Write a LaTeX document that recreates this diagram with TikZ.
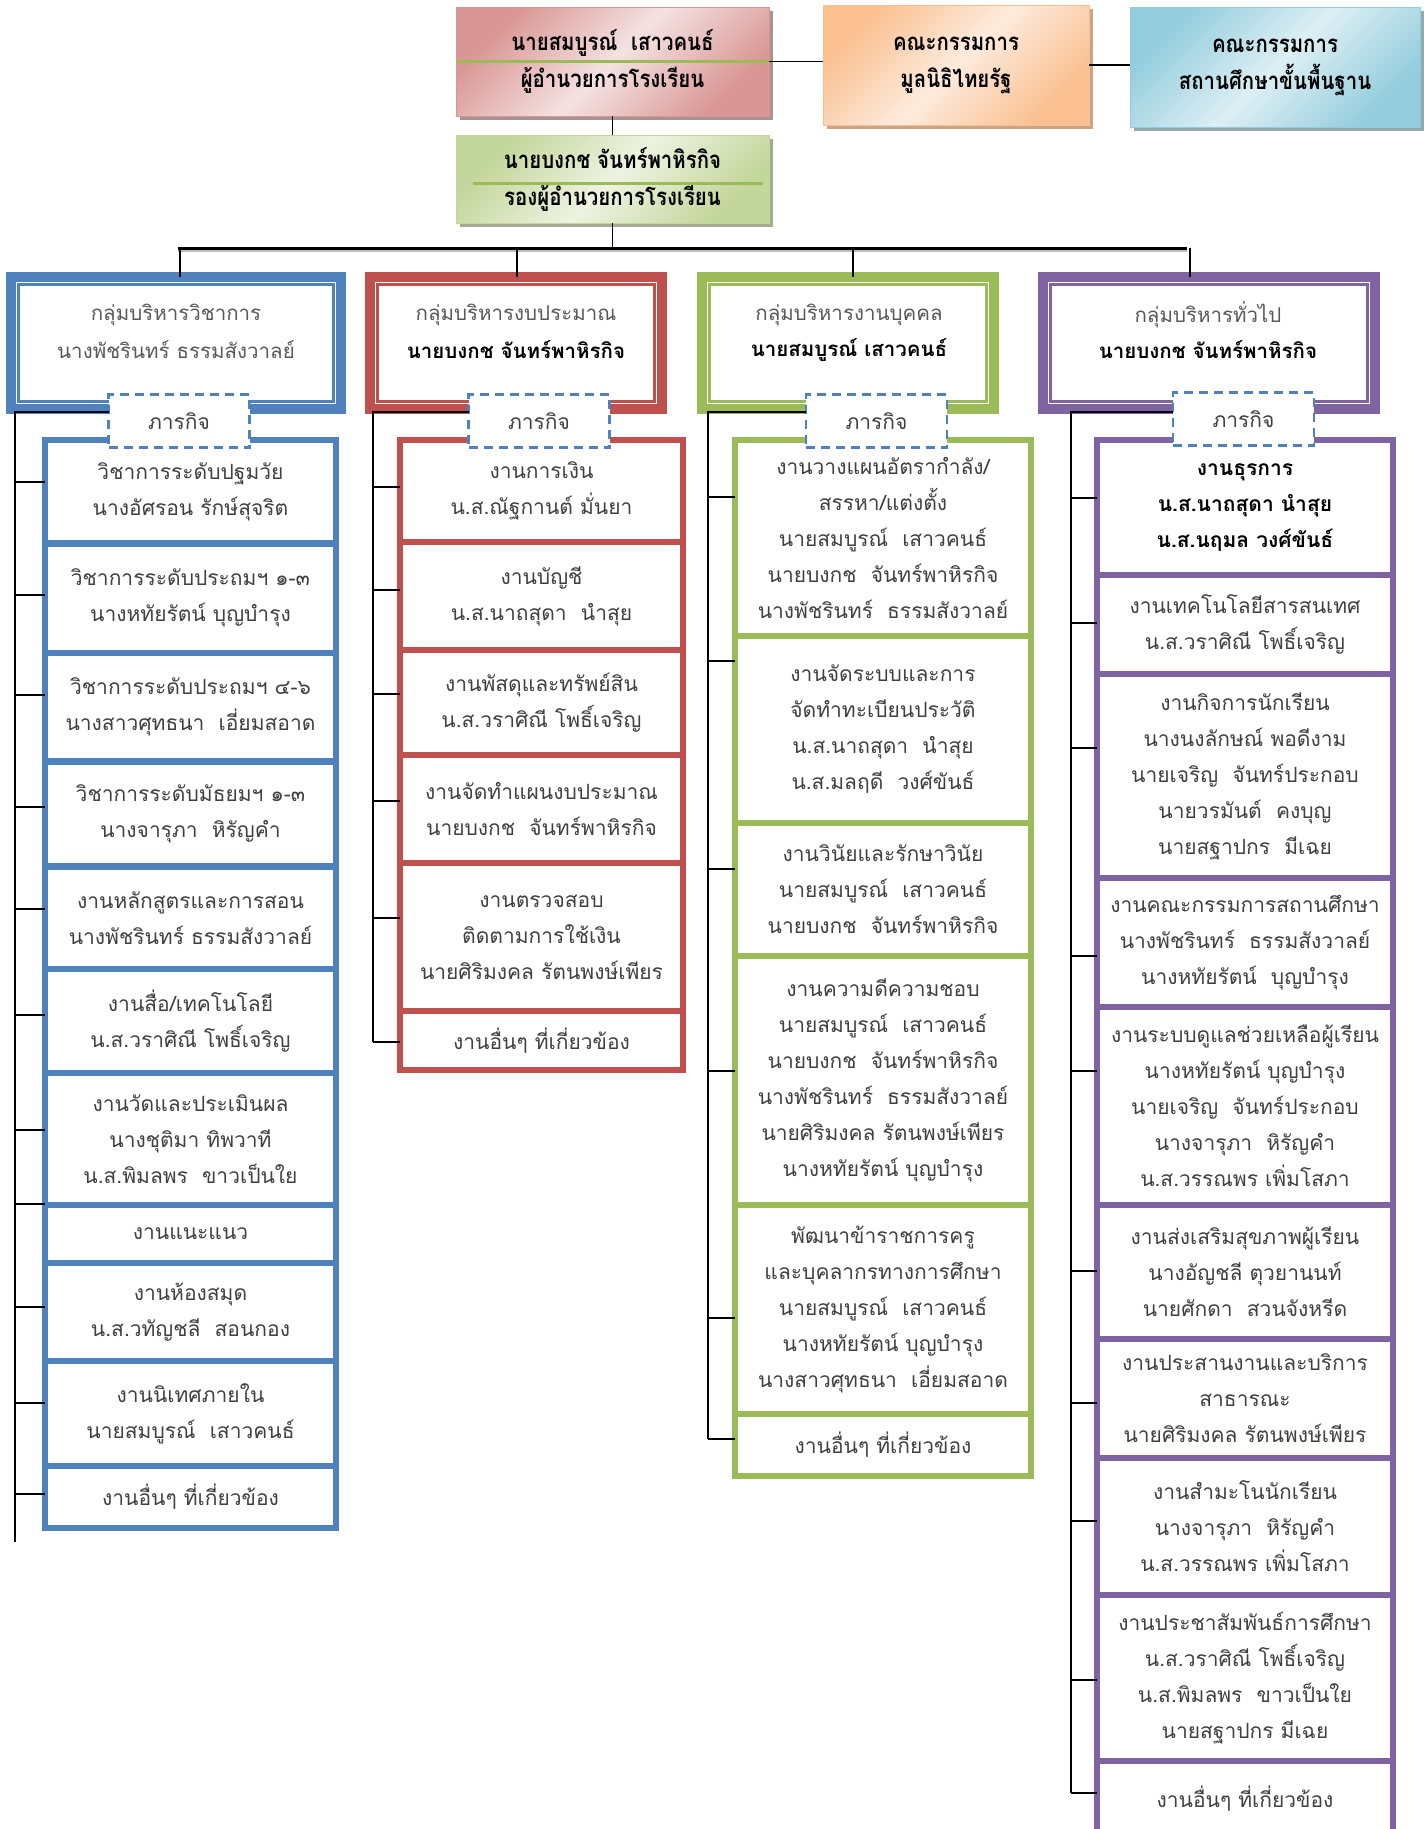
\documentclass[tikz,border=0pt]{standalone}
\usepackage{fontspec}
\setmainfont[Script=Thai]{Loma}
\usetikzlibrary{shadows}
\definecolor{cblue}{HTML}{4F81BD}
\definecolor{cred}{HTML}{C0504D}
\definecolor{cgreen}{HTML}{9BBB59}
\definecolor{cpurple}{HTML}{8064A2}
\definecolor{txtgray}{HTML}{404040}
\definecolor{hgray}{HTML}{595959}
\definecolor{pinkA}{HTML}{D99694}
\definecolor{pinkB}{HTML}{F4E2E2}
\definecolor{orA}{HTML}{FAC090}
\definecolor{orB}{HTML}{FDEBDD}
\definecolor{blA}{HTML}{93CDDD}
\definecolor{blB}{HTML}{DDEFF4}
\definecolor{grA}{HTML}{C3D69B}
\definecolor{grB}{HTML}{EEF3E2}
\definecolor{shR}{HTML}{A89292}
\definecolor{shO}{HTML}{C9A486}
\definecolor{shB}{HTML}{94A8AF}
\definecolor{shG}{HTML}{A3AB93}
\newcommand\bxfont{\fontsize{21}{36}\selectfont}
\newcommand\hdfont{\fontsize{20.5}{35}\selectfont}
\newcommand\tpfont{\fontsize{24}{37}\selectfont\bfseries}
\newcommand\cond[1]{\scalebox{0.85}[1]{#1}}
\newcommand\taskbox[7]{\node[#2, minimum width={#4-#3}, minimum height={#6-#5}] (#1) at ({(#3+#4)/2},{(#5+#6)/2}) {#7};}
\tikzset{
  every node/.style={inner sep=0pt, outer sep=0pt},
  tb/.style={draw=#1, line width=6.5pt, fill=white, text=txtgray, align=center, font=\bxfont},
  hb/.style={draw=#1, line width=10pt, fill=white},
  hin/.style={draw=#1, line width=2.5pt},
  mis/.style={draw=cblue, line width=2.5pt, dash pattern=on 9pt off 6pt, fill=white, text=txtgray, font=\bxfont, minimum width=141pt, minimum height=53pt},
  conn/.style={draw=black, line width=1.8pt},
  topbox/.style n args={3}{draw=#1, line width=1pt, top color=#1, bottom color=#1, middle color=#2, shading angle=45, drop shadow={shadow xshift=4pt, shadow yshift=-4pt, fill=#3, opacity=1}, align=center, font=\tpfont, text=black},
  htxt/.style={align=center, font=\hdfont, text=hgray},
  hname/.style={align=center, font=\hdfont\bfseries, text=black},
}
\begin{document}
\begin{tikzpicture}[x=1pt, y=-1pt]
\fill[white] (0,0) rectangle (1424,1829);
\useasboundingbox (0,0) rectangle (1424,1829);

% top boxes
\node[topbox={pinkA}{pinkB}{shR}, minimum width=313, minimum height=109] (r) at (612.5,61.5) {\cond{นายสมบูรณ์~~เสาวคนธ์}\\\cond{ผู้อำนวยการโรงเรียน}};
\node[topbox={orA}{orB}{shO}, minimum width=266, minimum height=120] (o) at (956,65) {\cond{คณะกรรมการ}\\\cond{มูลนิธิไทยรัฐ}};
\node[topbox={blA}{blB}{shB}, minimum width=290, minimum height=120] (b) at (1275,67) {\cond{คณะกรรมการ}\\\cond{สถานศึกษาขั้นพื้นฐาน}};
\node[topbox={grA}{grB}{shG}, minimum width=313, minimum height=88] (g) at (612.5,179) {\cond{นายบงกช จันทร์พาหิรกิจ}\\\cond{รองผู้อำนวยการโรงเรียน}};
\draw[cgreen, line width=3pt] (r.west) -- (r.east);
\draw[cgreen, line width=3pt] ([shift={(17,4)}]g.west) -- ([shift={(-6,4)}]g.east);

\draw[conn] (r.east) -- (r.east -| o.west);
\draw[conn] (o.east) -- (o.east -| b.west);
\draw[conn] (r.south) -- (g.north);
\coordinate (bar) at (612.5,248);
\coordinate (bl) at (178,248);
\coordinate (br) at (1187,248);
\draw[conn] (g.south) -- (bar);
\draw[gray!50, line width=2pt] ([yshift=-3pt]bl) -- ([yshift=-3pt]br);
\draw[line width=3pt] (bl) -- (br);

% headers
\node[hb=cblue, minimum width=330, minimum height=132] (h1) at (176,343) {};
\node[hb=cred, minimum width=292, minimum height=132] (h2) at (516,343) {};
\node[hb=cgreen, minimum width=292, minimum height=132] (h3) at (848,343) {};
\node[hb=cpurple, minimum width=332, minimum height=132] (h4) at (1209,343) {};
\foreach \h/\c in {h1/cblue, h2/cred, h3/cgreen, h4/cpurple}
  \draw[hin=\c] ([shift={(7.5,7.5)}]\h.north west) rectangle ([shift={(-7.5,-7.5)}]\h.south east);
\foreach \x/\h in {180/h1, 517/h2, 853/h3, 1190/h4} {
  \coordinate (dd) at (\x,248);
  \draw[conn] (dd) -- (dd |- \h.north);
}
\node[htxt] (h1a) at (176,315) {กลุ่มบริหารวิชาการ};
\node[htxt] (h1b) at (176,350) {นางพัชรินทร์ ธรรมสังวาลย์};
\node[htxt] (h2a) at (516,315) {กลุ่มบริหารงบประมาณ};
\node[hname] (h2b) at (516,350) {นายบงกช จันทร์พาหิรกิจ};
\node[htxt] (h3a) at (849,315) {กลุ่มบริหารงานบุคคล};
\node[hname] (h3b) at (849,350) {นายสมบูรณ์ เสาวคนธ์};
\node[htxt] (h4a) at (1208,315) {กลุ่มบริหารทั่วไป};
\node[hname] (h4b) at (1208,350) {นายบงกช จันทร์พาหิรกิจ};

% column 1
\taskbox{a1}{tb=cblue}{45}{336}{440}{543.5}{วิชาการระดับปฐมวัย\\นางอัศรอน รักษ์สุจริต}
\taskbox{a2}{tb=cblue}{45}{336}{543.5}{653}{วิชาการระดับประถมฯ ๑-๓\\นางหทัยรัตน์ บุญบำรุง}
\taskbox{a3}{tb=cblue}{45}{336}{653}{761.5}{วิชาการระดับประถมฯ ๔-๖\\นางสาวศุทธนา~~เอี่ยมสอาด}
\taskbox{a4}{tb=cblue}{45}{336}{761.5}{866.5}{วิชาการระดับมัธยมฯ ๑-๓\\นางจารุภา~~หิรัญคำ}
\taskbox{a5}{tb=cblue}{45}{336}{866.5}{969}{งานหลักสูตรและการสอน\\นางพัชรินทร์ ธรรมสังวาลย์}
\taskbox{a6}{tb=cblue}{45}{336}{969}{1073}{งานสื่อ/เทคโนโลยี\\น.ส.วราศิณี โพธิ์เจริญ}
\taskbox{a7}{tb=cblue}{45}{336}{1073}{1205}{งานวัดและประเมินผล\\นางชุติมา ทิพวาที\\น.ส.พิมลพร~~ขาวเป็นใย}
\taskbox{a8}{tb=cblue}{45}{336}{1205}{1263}{งานแนะแนว}
\taskbox{a9}{tb=cblue}{45}{336}{1263}{1361}{งานห้องสมุด\\น.ส.วทัญชลี~~สอนกอง}
\taskbox{a10}{tb=cblue}{45}{336}{1361}{1466}{งานนิเทศภายใน\\นายสมบูรณ์~~เสาวคนธ์}
\taskbox{a11}{tb=cblue}{45}{336}{1466}{1528}{งานอื่นๆ ที่เกี่ยวข้อง}

% column 2
\taskbox{c1}{tb=cred}{400}{683}{440}{542}{งานการเงิน\\น.ส.ณัฐกานต์ มั่นยา}
\taskbox{c2}{tb=cred}{400}{683}{542}{650}{งานบัญชี\\น.ส.นาถสุดา~~นำสุย}
\taskbox{c3}{tb=cred}{400}{683}{650}{755}{งานพัสดุและทรัพย์สิน\\น.ส.วราศิณี โพธิ์เจริญ}
\taskbox{c4}{tb=cred}{400}{683}{755}{863}{งานจัดทำแผนงบประมาณ\\นายบงกช~~จันทร์พาหิรกิจ}
\taskbox{c5}{tb=cred}{400}{683}{863}{1011}{งานตรวจสอบ\\ติดตามการใช้เงิน\\นายศิริมงคล รัตนพงษ์เพียร}
\taskbox{c6}{tb=cred}{400}{683}{1011}{1070}{งานอื่นๆ ที่เกี่ยวข้อง}

% column 3
\taskbox{e1}{tb=cgreen}{735}{1031}{440}{636}{งานวางแผนอัตรากำลัง/\\สรรหา/แต่งตั้ง\\นายสมบูรณ์~~เสาวคนธ์\\นายบงกช~~จันทร์พาหิรกิจ\\นางพัชรินทร์~~ธรรมสังวาลย์}
\taskbox{e2}{tb=cgreen}{735}{1031}{636}{823}{งานจัดระบบและการ\\จัดทำทะเบียนประวัติ\\น.ส.นาถสุดา~~นำสุย\\น.ส.มลฤดี~~วงศ์ขันธ์}
\taskbox{e3}{tb=cgreen}{735}{1031}{823}{956}{งานวินัยและรักษาวินัย\\นายสมบูรณ์~~เสาวคนธ์\\นายบงกช~~จันทร์พาหิรกิจ}
\taskbox{e4}{tb=cgreen}{735}{1031}{956}{1205}{งานความดีความชอบ\\นายสมบูรณ์~~เสาวคนธ์\\นายบงกช~~จันทร์พาหิรกิจ\\นางพัชรินทร์~~ธรรมสังวาลย์\\นายศิริมงคล รัตนพงษ์เพียร\\นางหทัยรัตน์ บุญบำรุง}
\taskbox{e5}{tb=cgreen}{735}{1031}{1205}{1414}{พัฒนาข้าราชการครู\\และบุคลากรทางการศึกษา\\นายสมบูรณ์~~เสาวคนธ์\\นางหทัยรัตน์ บุญบำรุง\\นางสาวศุทธนา~~เอี่ยมสอาด}
\taskbox{e6}{tb=cgreen}{735}{1031}{1414}{1476}{งานอื่นๆ ที่เกี่ยวข้อง}

% column 4
\taskbox{d1}{tb=cpurple, text=black, font=\bxfont\bfseries}{1097}{1393}{440}{575}{งานธุรการ\\น.ส.นาถสุดา นำสุย\\น.ส.นฤมล วงศ์ขันธ์}
\taskbox{d2}{tb=cpurple}{1097}{1393}{575}{674}{งานเทคโนโลยีสารสนเทศ\\น.ส.วราศิณี โพธิ์เจริญ}
\taskbox{d3}{tb=cpurple}{1097}{1393}{674}{878}{งานกิจการนักเรียน\\นางนงลักษณ์ พอดีงาม\\นายเจริญ~~จันทร์ประกอบ\\นายวรมันต์~~คงบุญ\\นายสฐาปกร~~มีเฉย}
\taskbox{d4}{tb=cpurple}{1097}{1393}{878}{1007}{งานคณะกรรมการสถานศึกษา\\นางพัชรินทร์~~ธรรมสังวาลย์\\นางหทัยรัตน์~~บุญบำรุง}
\taskbox{d5}{tb=cpurple}{1097}{1393}{1007}{1205}{งานระบบดูแลช่วยเหลือผู้เรียน\\นางหทัยรัตน์ บุญบำรุง\\นายเจริญ~~จันทร์ประกอบ\\นางจารุภา~~หิรัญคำ\\น.ส.วรรณพร เพิ่มโสภา}
\taskbox{d6}{tb=cpurple}{1097}{1393}{1205}{1339}{งานส่งเสริมสุขภาพผู้เรียน\\นางอัญชลี ตุวยานนท์\\นายศักดา~~สวนจังหรีด}
\taskbox{d7}{tb=cpurple}{1097}{1393}{1339}{1458}{งานประสานงานและบริการ\\สาธารณะ\\นายศิริมงคล รัตนพงษ์เพียร}
\taskbox{d8}{tb=cpurple}{1097}{1393}{1458}{1595}{งานสำมะโนนักเรียน\\นางจารุภา~~หิรัญคำ\\น.ส.วรรณพร เพิ่มโสภา}
\taskbox{d9}{tb=cpurple}{1097}{1393}{1595}{1761}{งานประชาสัมพันธ์การศึกษา\\น.ส.วราศิณี โพธิ์เจริญ\\น.ส.พิมลพร~~ขาวเป็นใย\\นายสฐาปกร มีเฉย}
\taskbox{d10}{tb=cpurple}{1097}{1393}{1761}{1836}{งานอื่นๆ ที่เกี่ยวข้อง}

% mission boxes
\node[mis] (m1) at (179,421) {ภารกิจ};
\node[mis] (m2) at (539,421) {ภารกิจ};
\node[mis] (m3) at (876.5,421) {ภารกิจ};
\node[mis] (m4) at (1243.5,419) {ภารกิจ};

% buses
\coordinate (e1end) at (15,1542);
\coordinate (e2end) at (373,1042);
\coordinate (e3end) at (708,1439);
\coordinate (e4end) at (1071,1793);
\draw[conn] ([yshift=9pt]m1.west) -| (e1end);
\draw[conn] ([yshift=9pt]m2.west) -| (e2end);
\draw[conn] ([yshift=9pt]m3.west) -| (e3end);
\draw[conn] ([yshift=7pt]m4.west) -| (e4end);
\foreach \n/\y in {a1/482, a2/595, a3/695, a4/807, a5/909, a6/1015, a7/1130, a8/1204, a9/1307, a10/1403, a11/1494} {
  \coordinate (tt) at (15,\y); \draw[conn] (tt) -- (tt -| \n.west);}
\foreach \n/\y in {c1/487, c2/590, c3/694, c4/801, c5/918, c6/1042} {
  \coordinate (tt) at (373,\y); \draw[conn] (tt) -- (tt -| \n.west);}
\foreach \n/\y in {e1/497, e2/661, e3/869, e4/1071, e5/1318, e6/1439} {
  \coordinate (tt) at (708,\y); \draw[conn] (tt) -- (tt -| \n.west);}
\foreach \n/\y in {d1/498, d2/623, d3/748, d4/956, d5/1071, d6/1271, d7/1403, d8/1521, d9/1680, d10/1793} {
  \coordinate (tt) at (1071,\y); \draw[conn] (tt) -- (tt -| \n.west);}
\end{tikzpicture}
\end{document}
